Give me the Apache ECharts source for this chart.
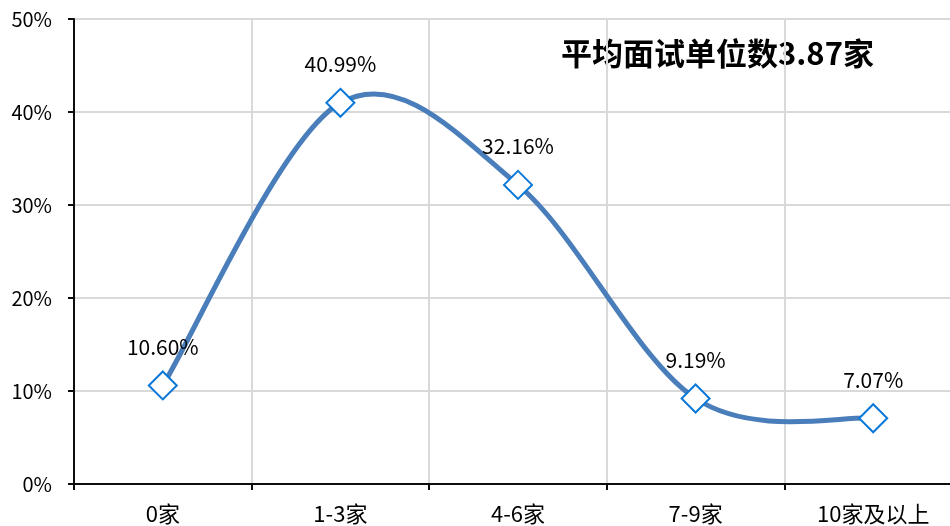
<!DOCTYPE html>
<html><head><meta charset="utf-8">
<script src="https://cdn.jsdelivr.net/npm/echarts@6/dist/echarts.min.js"></script>
<style>html,body{margin:0;padding:0;background:#fff;overflow:hidden}#c{width:962px;height:526px}</style>
</head><body><div id="c"></div>
<script>
const categories = ['0家', '1-3家', '4-6家', '7-9家', '10家及以上'];
const values = [10.60, 40.99, 32.16, 9.19, 7.07];
const yTicks = { min: 0, max: 50, interval: 10 };
const annotation = '平均面试单位数3.87家';

const FONT = '"Noto Sans CJK SC", "Noto Sans", sans-serif';
const chart = echarts.init(document.getElementById('c'), null, { renderer: 'canvas' });

// Smooth curve (Excel-style Bezier, tension 1/6) through points mapped by the axes
function renderCurve(params, api) {
  if (params.dataIndex !== 0) return null;
  const pts = values.map((v, i) => api.coord([i, v]));
  const n = pts.length;
  let d = 'M' + pts[0][0] + ' ' + pts[0][1];
  for (let i = 0; i < n - 1; i++) {
    const p0 = pts[Math.max(i - 1, 0)], p1 = pts[i], p2 = pts[i + 1], p3 = pts[Math.min(i + 2, n - 1)];
    const c1x = p1[0] + (p2[0] - p0[0]) / 6, c1y = p1[1] + (p2[1] - p0[1]) / 6;
    const c2x = p2[0] - (p3[0] - p1[0]) / 6, c2y = p2[1] - (p3[1] - p1[1]) / 6;
    d += ' C' + c1x + ' ' + c1y + ' ' + c2x + ' ' + c2y + ' ' + p2[0] + ' ' + p2[1];
  }
  return {
    type: 'path',
    shape: { pathData: d },
    style: { fill: null, stroke: '#4a7ebb', lineWidth: 5, lineCap: 'round', lineJoin: 'round' }
  };
}

chart.setOption({
  animation: false,
  backgroundColor: '#fff',
  grid: { left: 74, right: 0, top: 19, bottom: 42, containLabel: false },
  graphic: [{
    type: 'text', left: 561, top: 38,
    style: { text: annotation, font: 'bold 31px ' + FONT, fill: '#000' }
  }],
  xAxis: {
    type: 'category', data: categories, boundaryGap: true,
    axisLine: { lineStyle: { color: '#0d0d0d', width: 2 } },
    axisTick: { show: true, alignWithLabel: false, length: 6, lineStyle: { color: '#0d0d0d', width: 2 } },
    axisLabel: { color: '#000', fontSize: 22, fontFamily: FONT, margin: 19 },
    splitLine: { show: true, lineStyle: { color: '#d9d9d9', width: 2 } }
  },
  yAxis: {
    type: 'value', min: yTicks.min, max: yTicks.max, interval: yTicks.interval,
    axisLine: { show: true, lineStyle: { color: '#0d0d0d', width: 2 } },
    axisTick: { show: true, length: 6, lineStyle: { color: '#0d0d0d', width: 2 } },
    axisLabel: { color: '#000', fontSize: 20, fontFamily: FONT, margin: 22, formatter: '{value}%' },
    splitLine: { show: true, lineStyle: { color: '#d9d9d9', width: 2 } }
  },
  series: [{
    type: 'custom', data: values, renderItem: renderCurve, z: 2, silent: true
  }, {
    type: 'line', data: values,
    lineStyle: { width: 0, opacity: 0 },
    symbol: 'diamond', symbolSize: 28,
    itemStyle: { color: '#fff', borderColor: '#0a78d8', borderWidth: 2 },
    label: {
      show: true, position: 'top', distance: 13, color: '#000', fontSize: 21, fontFamily: FONT,
      formatter: p => p.value.toFixed(2) + '%'
    },
    z: 3
  }]
});
</script></body></html>
